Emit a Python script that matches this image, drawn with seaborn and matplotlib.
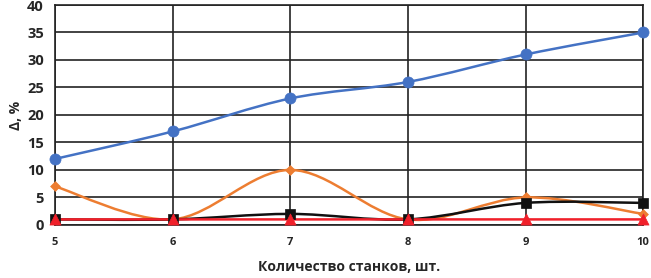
import numpy as np
import pandas as pd
import seaborn as sns
import matplotlib.pyplot as plt
from matplotlib.path import Path
from matplotlib.patches import PathPatch

# data
machines = [5, 6, 7, 8, 9, 10]
blue_vals = [12, 17, 23, 26, 31, 35]
orange_vals = [7, 1, 10, 1, 5, 2]
black_vals = [1, 1, 2, 1, 4, 4]
red_vals = [1, 1, 1, 1, 1, 1]

y_ticks = [0, 5, 10, 15, 20, 25, 30, 35, 40]


def smooth_path(xs, ys):
    # Excel-like smoothed line: cubic Bezier through the data points
    pts = np.column_stack([xs, ys]).astype(float)
    verts = [pts[0]]
    codes = [Path.MOVETO]
    n = len(pts)
    for i in range(n - 1):
        p0 = pts[i - 1] if i > 0 else pts[i]
        p1 = pts[i]
        p2 = pts[i + 1]
        p3 = pts[i + 2] if i + 2 < n else pts[i + 1]
        c1 = p1 + (p2 - p0) / 6
        c2 = p2 - (p3 - p1) / 6
        verts += [c1, c2, p2]
        codes += [Path.CURVE4] * 3
    return Path(verts, codes)


sns.set_style("white")
plt.rcParams['font.family'] = ['Open Sans', 'DejaVu Sans']

fig = plt.figure(figsize=(6.51, 2.78), dpi=100)
ax = fig.add_axes([0.0845, 0.191, 0.9035, 0.791])

series = [
    (blue_vals, "#4472C4", "o", 8),
    (orange_vals, "#ED7D31", "D", 5),
    (black_vals, "#111111", "s", 7),
    (red_vals, "#F0202A", "^", 8),
]

for vals, col, mk, ms in series:
    patch = PathPatch(smooth_path(machines, vals), facecolor="none",
                      edgecolor=col, lw=1.8, zorder=3, clip_on=False)
    ax.add_patch(patch)
    df = pd.DataFrame({"x": machines, "y": vals})
    sns.scatterplot(data=df, x="x", y="y", color=col, marker=mk, s=ms ** 2,
                    edgecolor=col, linewidth=0.5, zorder=4, clip_on=False, ax=ax)

ax.set_xlim(5, 10)
ax.set_ylim(0, 40)
ax.set_xticks(machines)
ax.set_yticks(y_ticks)
ax.grid(True, color="#222222", lw=1.2)
ax.set_axisbelow(True)
for sp in ax.spines.values():
    sp.set_color("#222222")
    sp.set_linewidth(1.2)

ax.tick_params(axis="both", length=0)
ax.tick_params(axis="x", pad=9)
ax.tick_params(axis="y", pad=8)
for lab in ax.get_xticklabels():
    lab.set_fontsize(8)
    lab.set_fontweight("bold")
for lab in ax.get_yticklabels():
    lab.set_fontsize(10.5)
    lab.set_fontweight("bold")

ax.set_xlabel("Количество станков, шт.", fontsize=10, fontweight="bold", labelpad=8)
ax.set_ylabel("Δ, %", fontsize=10, fontweight="bold", labelpad=3)

fig.savefig("out.png", dpi=100)
